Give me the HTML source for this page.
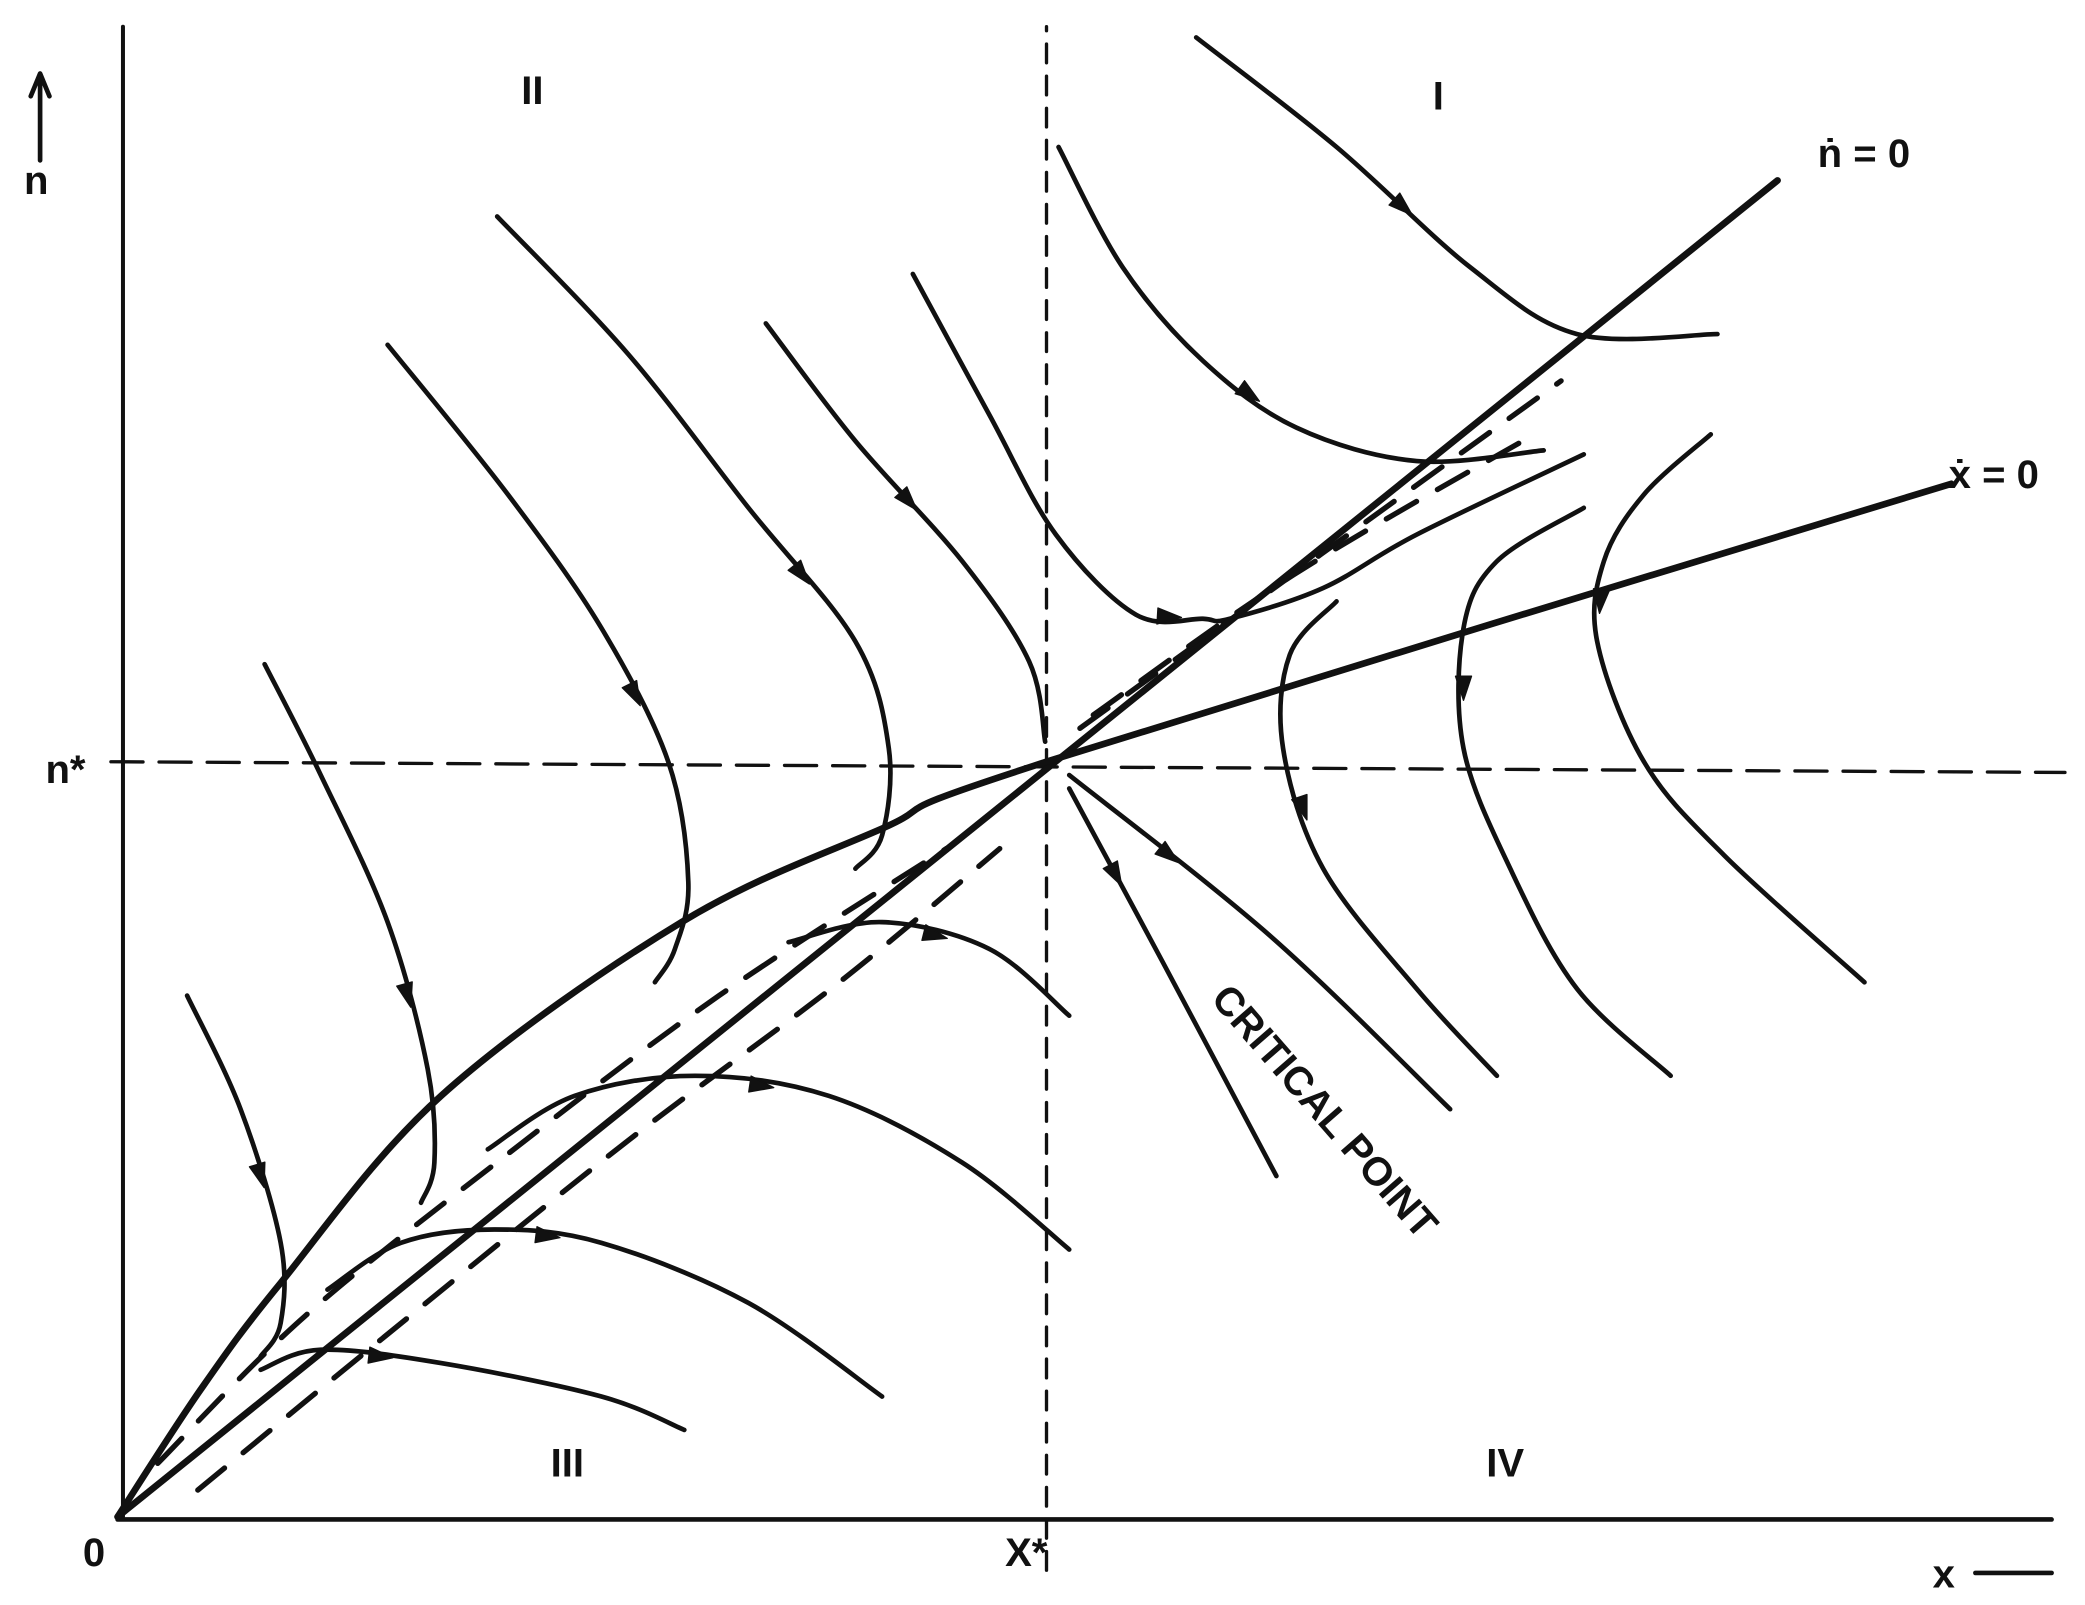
<!DOCTYPE html>
<html><head><meta charset="utf-8">
<style>
html,body{margin:0;padding:0;background:#fff;}
svg{display:block;}
text{font-family:"Liberation Sans",sans-serif;font-weight:bold;fill:#111;}
</style></head>
<body>
<svg id="chart" width="2085" height="1605" viewBox="0 0 1560 1201" preserveAspectRatio="none" xmlns="http://www.w3.org/2000/svg">
<g id="marks" fill="none" stroke="#111" stroke-linecap="round" stroke-linejoin="round"></g>
<text x="390" y="78" font-size="30" font-family="Liberation Serif">II</text>
<text x="1072" y="82" font-size="30" font-family="Liberation Serif">I</text>
<text x="412" y="1105" font-size="30" font-family="Liberation Serif">III</text>
<text x="1112" y="1105" font-size="30" font-family="Liberation Serif">IV</text>
<text x="18" y="145" font-size="30">n</text>
<text x="34" y="586" font-size="30">n*</text>
<text x="62" y="1172" font-size="30">0</text>
<text x="752" y="1172" font-size="30">X*</text>
<text x="1446" y="1188" font-size="30">x</text>
<text x="1360" y="125" font-size="30">ṅ  = 0</text>
<text x="1458" y="365" font-size="30">ẋ  = 0</text>
<text x="0" y="0" font-size="30" transform="translate(905,748) rotate(49)">CRITICAL POINT</text>
</svg>
<script>
// data coordinates: x = offset right of origin, n = offset above origin (reference units)
const nDotLine = [[0,0],[1242,1000]];
const xDotCurve = [[0,0],[62,95],[122,175],[242,315],[422,445],[572,515],[695,565],[1372,773]];
const trajectories = [
 [[52,390],[92,305],[122,205],[122,145],[107,120]],
 [[110,638],[152,555],[202,445],[232,335],[237,265],[227,235]],
 [[202,877],[292,765],[362,665],[412,565],[427,475],[417,425],[402,400]],
 [[284,973],[382,870],[472,755],[552,655],[577,575],[572,510],[552,485]],
 [[485,893],[552,805],[632,715],[682,640],[694,580]],
 [[595,930],[652,825],[702,735],[762,675],[812,672],[832,672],[902,695],[972,735],[1097,795]],
 [[807,1107],[912,1025],[1012,935],[1092,885],[1197,885]],
 [[704,1025],[752,935],[812,865],[882,815],[972,790],[1067,798]],
 [[1192,810],[1142,765],[1112,715],[1107,655],[1142,565],[1202,495],[1307,400]],
 [[1097,755],[1032,715],[1007,665],[1007,575],[1042,485],[1092,395],[1162,330]],
 [[912,685],[877,645],[872,575],[902,485],[972,395],[1032,330]],
 [[712,545],[782,415],[867,255]],
 [[712,555],[862,435],[997,305]],
 [[502,430],[572,445],[652,425],[712,375]],
 [[277,275],[342,315],[432,330],[532,315],[632,265],[712,200]],
 [[157,170],[212,205],[282,215],[362,205],[472,160],[572,90]],
 [[107,110],[152,125],[242,115],[362,90],[424,65]]
];
const dashedFlows = [
 [[30,40],[140,150],[290,270],[450,390],[620,500]],
 [[60,20],[200,135],[380,280],[540,400],[660,500]],
 [[720,590],[900,720],[1080,850]],
 [[730,600],[880,705],[1060,810]]
];
const vDash = [[695,-40],[695,1115]];
const hDash = [[-5,565],[1457,557]];
const xAxis = [[0,-2],[1447,-2]];
const yAxis = [[4,0],[4,1115]];

const OX=88, OY=1135;
const sx = x => OX + x;
const sy = n => OY - n;
const g = document.getElementById('marks');
const NS='http://www.w3.org/2000/svg';
function pathD(pts){
  let d='M'+sx(pts[0][0])+','+sy(pts[0][1]);
  if(pts.length===2){return d+' L'+sx(pts[1][0])+','+sy(pts[1][1]);}
  for(let i=1;i<pts.length;i++){
    const p0=pts[Math.max(0,i-2)],p1=pts[i-1],p2=pts[i],p3=pts[Math.min(pts.length-1,i+1)];
    const c1x=sx(p1[0])+(sx(p2[0])-sx(p0[0]))/6, c1y=sy(p1[1])+(sy(p2[1])-sy(p0[1]))/6;
    const c2x=sx(p2[0])-(sx(p3[0])-sx(p1[0]))/6, c2y=sy(p2[1])-(sy(p3[1])-sy(p1[1]))/6;
    d+=' C'+c1x+','+c1y+' '+c2x+','+c2y+' '+sx(p2[0])+','+sy(p2[1]);
  }
  return d;
}
function add(pts,w,dash,name){
  const p=document.createElementNS(NS,'path');
  p.setAttribute('d',pathD(pts));
  p.setAttribute('stroke-width',w);
  if(dash)p.setAttribute('stroke-dasharray',dash);
  
  
  g.appendChild(p);
}
add(xAxis,3.5,null,'x-axis');
add(yAxis,3,null,'y-axis');
add(vDash,2.5,'14,10','x-star-guide');
add(hDash,2.5,'24,12','n-star-guide');
add(nDotLine,5,null,'n-dot-zero-line');
add(xDotCurve,5,null,'x-dot-zero-curve');
trajectories.forEach((t,i)=>add(t,3.5,null,'trajectory-'+(i+1)));
dashedFlows.forEach((t,i)=>add(t,4,'26,18','flow-arrows-'+(i+1)));
trajectories.forEach((t,i)=>{
  const k=Math.floor(t.length/2);
  const a=t[k-1],b=t[k];
  const x1=sx(a[0]),y1=sy(a[1]),x2=sx(b[0]),y2=sy(b[1]);
  const mx=(x1+x2)/2,my=(y1+y2)/2, ang=Math.atan2(y2-y1,x2-x1);
  const L=18,W=6;
  const pts=[[mx+L/2*Math.cos(ang),my+L/2*Math.sin(ang)],
   [mx-L/2*Math.cos(ang)-W*Math.sin(ang),my-L/2*Math.sin(ang)+W*Math.cos(ang)],
   [mx-L/2*Math.cos(ang)+W*Math.sin(ang),my-L/2*Math.sin(ang)-W*Math.cos(ang)]];
  const pg=document.createElementNS(NS,'polygon');
  pg.setAttribute('points',pts.map(p=>p.join(',')).join(' '));
  pg.setAttribute('fill','#111');
  
  
  g.appendChild(pg);
});
const ya=document.createElementNS(NS,'path');
ya.setAttribute('d','M30,120 L30,58 M23,72 L30,55 L37,72');
ya.setAttribute('stroke-width','3.5');


g.appendChild(ya);
const xa=document.createElementNS(NS,'path');
xa.setAttribute('d','M1478,1177 L1535,1177');
xa.setAttribute('stroke-width','3.5');


g.appendChild(xa);
</script>
</body></html>
